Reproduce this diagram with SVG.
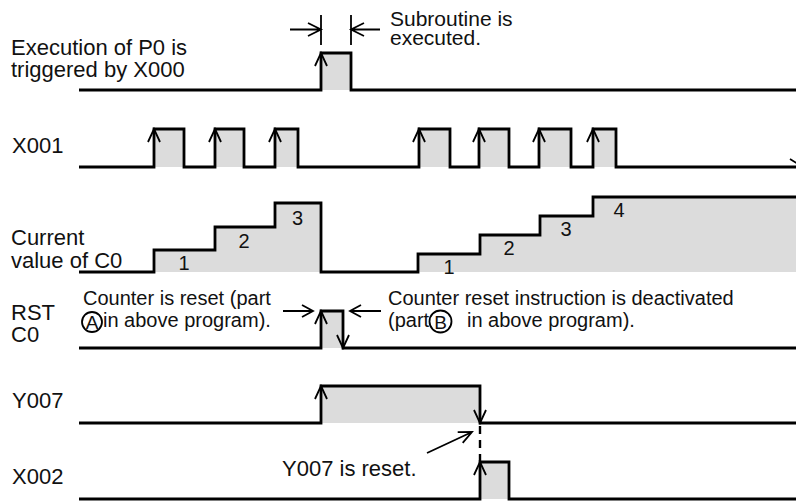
<svg xmlns="http://www.w3.org/2000/svg" width="796" height="501" viewBox="0 0 796 501">
<style>
.sig{fill:none;stroke:#000;stroke-width:2.8;stroke-linejoin:miter}
.fl{fill:#dcdcdc;stroke:none}
.ar{fill:none;stroke:#000;stroke-width:1.8}
.t{font-family:"Liberation Sans",Arial,sans-serif;font-size:20px;fill:#111}
.L{font-size:22px}
.c{text-anchor:middle}
</style>
<rect width="796" height="501" fill="#fff"/>
<g id="x000">
<rect class="fl" x="321" y="53" width="30" height="37"/>
<path class="sig" d="M79,90 H321 V53 H351 V90 H796"/>
<path class="ar" d="M315,66 L321,53 L327,66"/>
<text class="t L" x="11" y="55">Execution of P0 is</text>
<text class="t L" x="11" y="77">triggered by X000</text>
</g>
<g id="subroutine">
<path class="ar" d="M321,15 V45 M351,15 V45 M290,29.5 H321 M308,23 L321,29.5 L308,36 M380,29.5 H351 M364,23 L351,29.5 L364,36"/>
<text class="t" x="390" y="26" style="font-size:21px">Subroutine is</text>
<text class="t" x="390" y="45" style="font-size:21px">executed.</text>
</g>
<g id="x001">
<rect class="fl" x="154" y="129" width="30" height="38"/>
<rect class="fl" x="215" y="129" width="29" height="38"/>
<rect class="fl" x="275" y="129" width="23" height="38"/>
<rect class="fl" x="419" y="129" width="31" height="38"/>
<rect class="fl" x="479" y="129" width="30" height="38"/>
<rect class="fl" x="539" y="129" width="32" height="38"/>
<rect class="fl" x="593" y="129" width="23" height="38"/>
<path class="sig" d="M79,167 H154 V129 H184 V167 H215 V129 H244 V167 H275 V129 H298 V167 H419 V129 H450 V167 H479 V129 H509 V167 H539 V129 H571 V167 H593 V129 H616 V167 H796"/>
<path class="ar" d="M148,142 L154,129 L160,142 M209,142 L215,129 L221,142 M269,142 L275,129 L281,142 M413,142 L419,129 L425,142 M473,142 L479,129 L485,142 M533,142 L539,129 L545,142 M587,142 L593,129 L599,142 M790,159 L803,167"/>
<text class="t L" x="12" y="153">X001</text>
</g>
<g id="c0">
<path class="fl" d="M154,272 V250 H215 V227 H275 V203 H321 V272 Z M418,272 V254 H480 V235 H540 V216 H593 V197 H796 V272 Z"/>
<path class="sig" d="M79,272 H154 V250 H215 V227 H275 V203 H321 V272 H418 V254 H480 V235 H540 V216 H593 V197 H796"/>
<text class="t c" x="184" y="270">1</text>
<text class="t c" x="244" y="248">2</text>
<text class="t c" x="297.5" y="225">3</text>
<text class="t c" x="449" y="274">1</text>
<text class="t c" x="509" y="255">2</text>
<text class="t c" x="566" y="236">3</text>
<text class="t c" x="619" y="217">4</text>
<text class="t L" x="11" y="245">Current</text>
<text class="t L" x="11" y="268">value of C0</text>
</g>
<g id="rst">
<rect class="fl" x="321" y="311" width="22" height="37"/>
<path class="sig" d="M79,348 H321 V311 H343 V348 H796"/>
<path class="ar" d="M315,324 L321,311 L327,324 M337,335 L343,348 L349,335 M283,311 H313 M302,305 L313,311 L302,317 M381,311 H350 M361,305 L350,311 L361,317"/>
<text class="t L" x="11" y="320">RST</text>
<text class="t L" x="11" y="342">C0</text>
<text class="t" x="83" y="305">Counter is reset (part</text>
<circle class="ar" cx="92" cy="322" r="10"/>
<text class="t c" x="92" y="329" style="font-size:19px">A</text>
<text class="t" x="103" y="327">in above program).</text>
<text class="t" x="388" y="305">Counter reset instruction is deactivated</text>
<text class="t" x="388" y="327">(part</text>
<circle class="ar" cx="440.5" cy="321.5" r="11"/>
<text class="t c" x="440.5" y="328.5" style="font-size:19px">B</text>
<text class="t" x="467" y="327">in above program).</text>
</g>
<g id="y007">
<rect class="fl" x="321" y="386" width="159" height="37"/>
<path class="sig" d="M79,423 H321 V386 H480 V423 H796"/>
<path class="ar" d="M315,399 L321,386 L327,399 M474,410 L480,423 L486,410"/>
<text class="t L" x="12" y="408">Y007</text>
</g>
<g id="x002">
<rect class="fl" x="480" y="462" width="29" height="37"/>
<path class="sig" d="M79,499 H480 V462 H509 V499 H796"/>
<path class="ar" d="M474,475 L480,462 L486,475"/>
<text class="t L" x="12" y="484">X002</text>
</g>
<g id="connectors">
<path class="sig" d="M480,426 V461" stroke-dasharray="8,6" style="stroke-width:2.4"/>
<path class="ar" d="M427,453 L472,432 M457.7,432.1 L472,432 L462.7,442.9"/>
<text class="t L" x="282" y="476">Y007 is reset.</text>
</g>
</svg>
